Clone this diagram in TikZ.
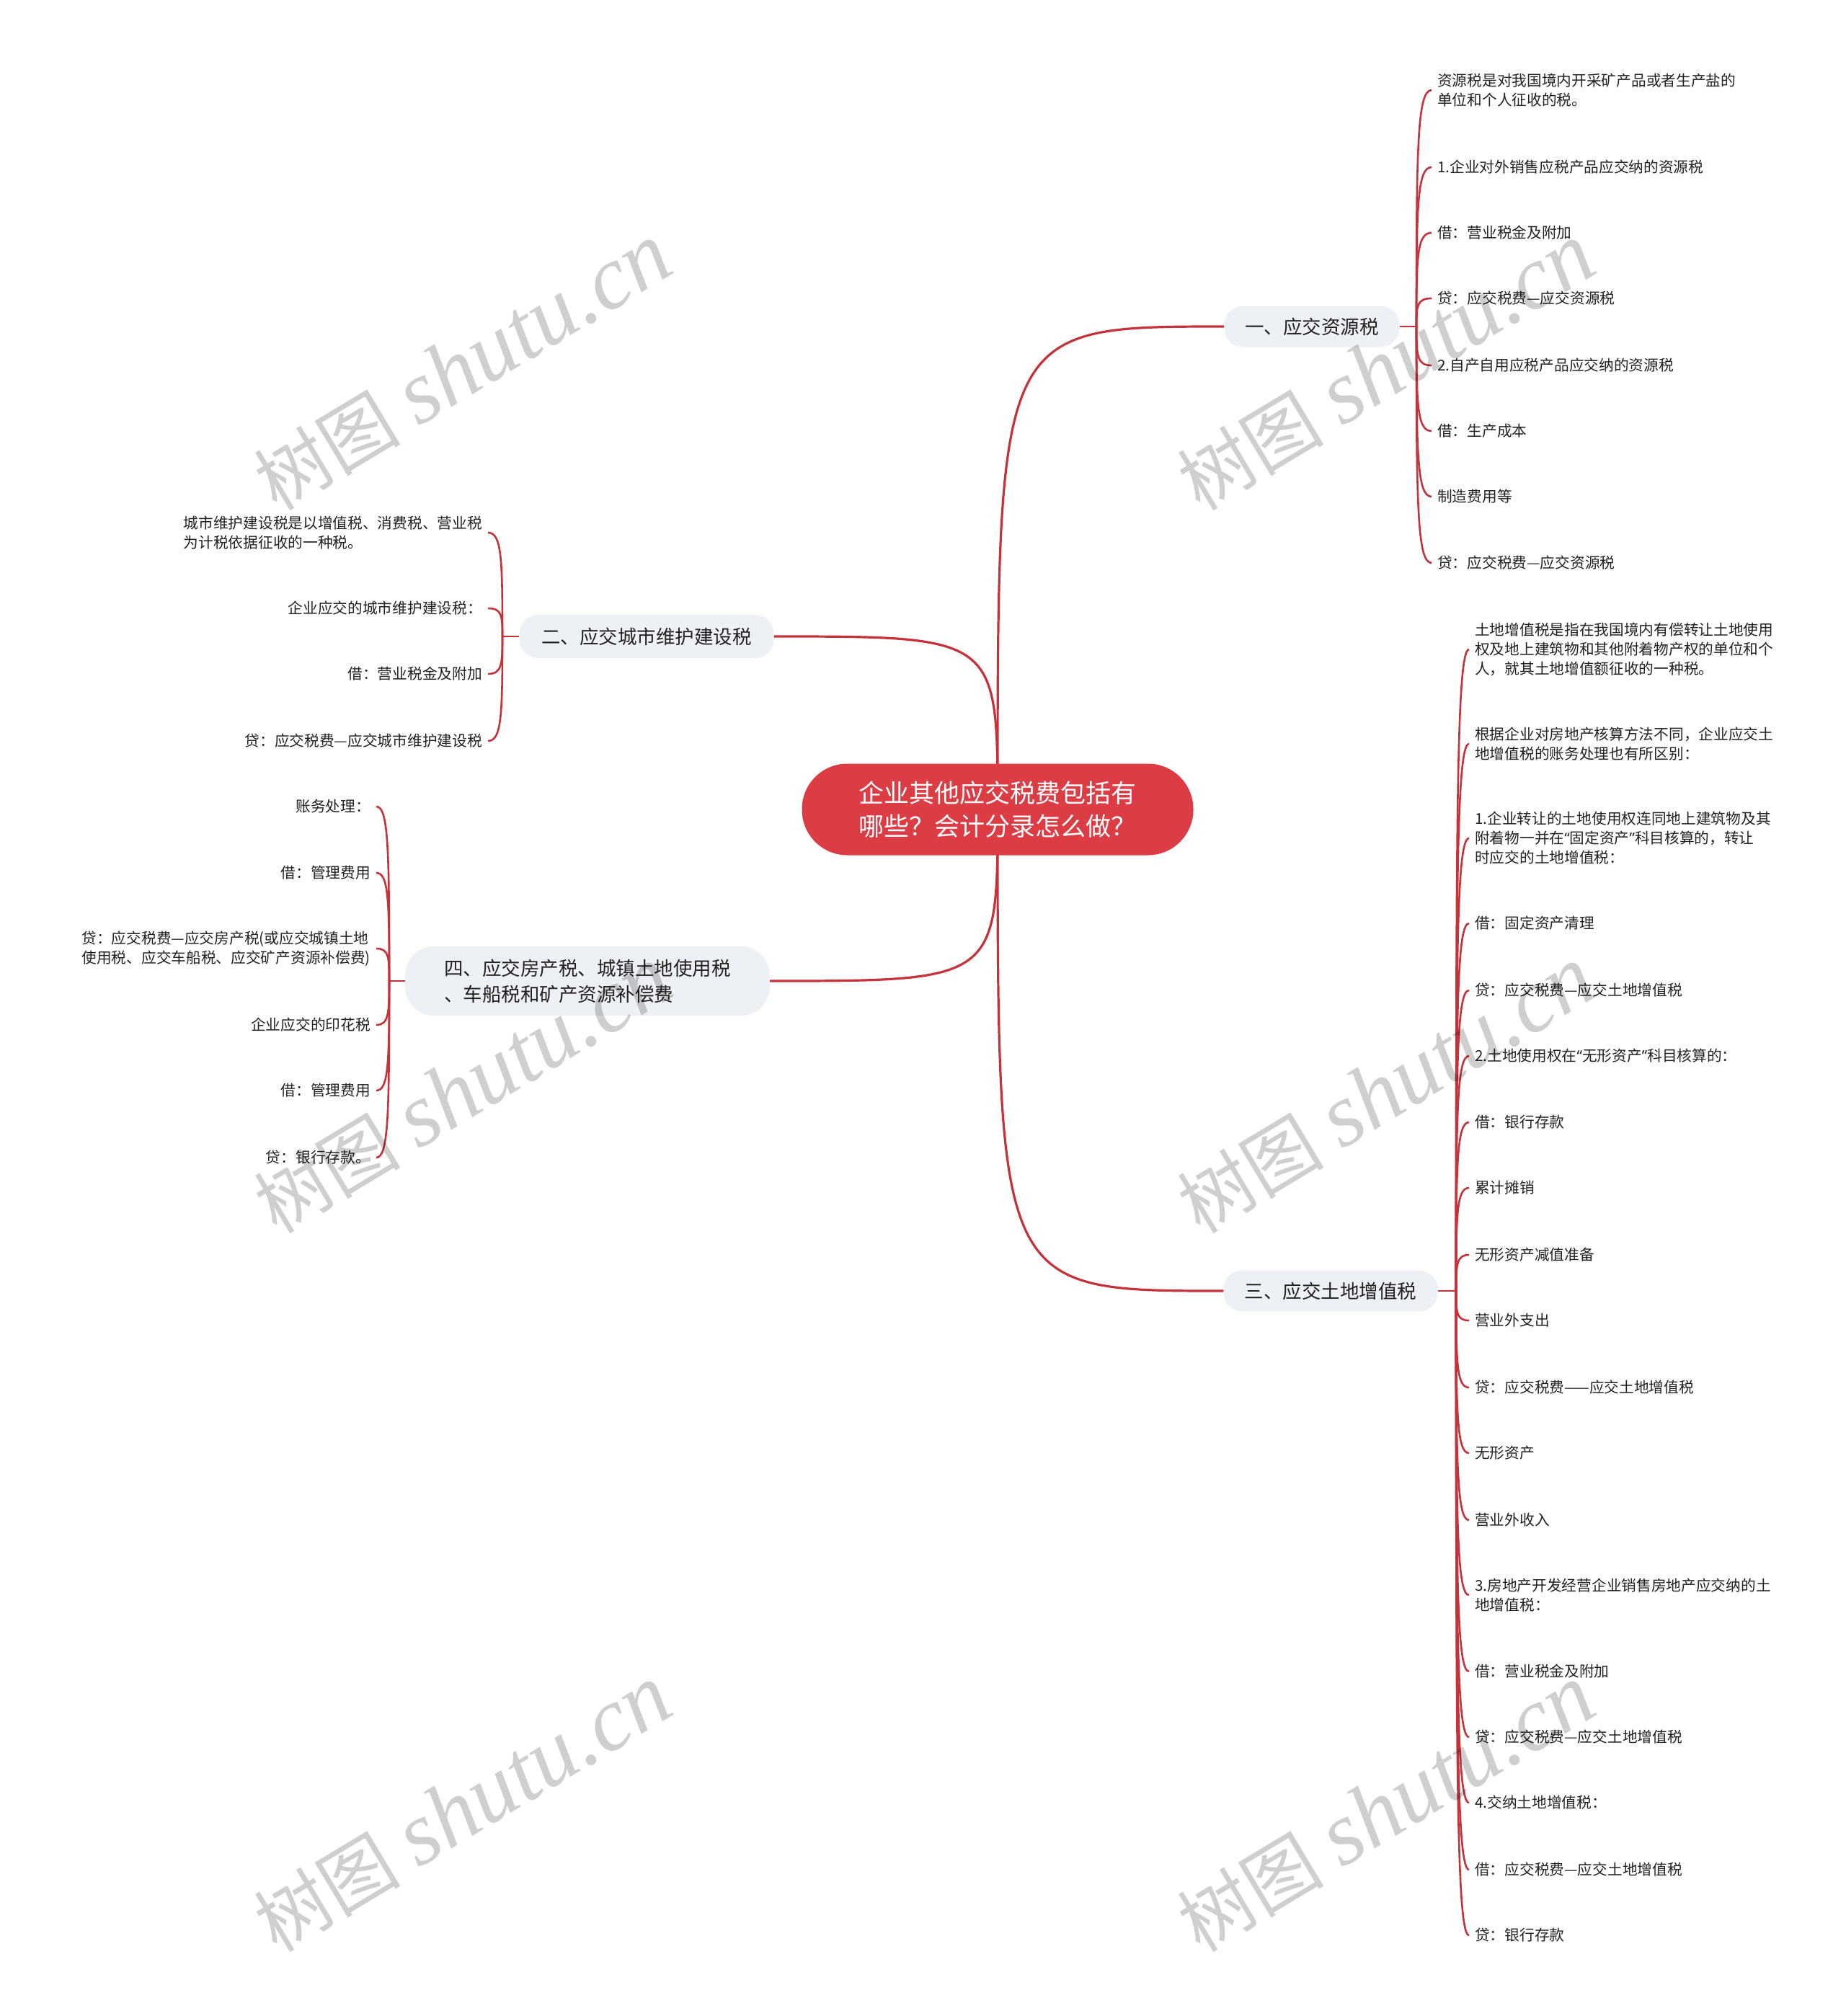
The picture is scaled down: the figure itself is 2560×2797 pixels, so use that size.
\documentclass[tikz,border=0pt]{standalone}
\usepackage{fontspec}
\setmainfont{Noto Sans CJK SC}
\newfontfamily\wmlat{Liberation Serif}
\newfontfamily\latq{Noto Sans}
\usetikzlibrary{calc}
\definecolor{linec}{HTML}{C5323A}
\definecolor{rootc}{HTML}{DC3D45}
\definecolor{branchc}{HTML}{EDF0F4}
\definecolor{textc}{HTML}{222222}
\pgfdeclarelayer{bg}\pgfdeclarelayer{fg}\pgfsetlayers{bg,main,fg}
\newcommand\leaffont{\fontsize{20.7}{27}\selectfont}
\newcommand\brfont{\fontsize{26.5}{36}\selectfont}
\newcommand\rtfont{\fontsize{35}{46}\selectfont}
\newcommand\myoq{{\latq “}}
\newcommand\mycq{{\latq ”}}
\begin{document}
\begin{tikzpicture}[x=1pt,y=-1pt,
  leaf/.style={inner sep=0pt, font=\leaffont, text=textc, align=left},
  rleaf/.style={leaf, anchor=west},
  lleaf/.style={leaf, anchor=east},
  branch/.style={fill=branchc, rounded corners=26pt, font=\brfont, text=textc, inner sep=0pt, align=left},
  mainline/.style={draw=linec, line width=3.2pt},
  leafline/.style={draw=linec, line width=2.6pt},
  wm/.style={text=black, text opacity=0.19, inner sep=0pt, rotate=31}]

\useasboundingbox (0,0) rectangle (2560,2797);

% root
\node[fill=rootc, rounded corners=63pt, minimum width=543pt, minimum height=127pt,
      font=\rtfont, text=white, align=left, inner sep=0pt] (root) at (1384,1123)
      {企业其他应交税费包括有\\哪些？会计分录怎么做？};

% branches
\node[branch, minimum width=243pt, minimum height=57pt] (b1) at (1820,453) {一、应交资源税};
\node[branch, minimum width=353pt, minimum height=60pt] (b2) at (897,883) {二、应交城市维护建设税};
\node[branch, minimum width=297pt, minimum height=57pt] (b3) at (1846,1791) {三、应交土地增值税};
\node[branch, minimum width=506pt, minimum height=96pt, rounded corners=40pt] (b4) at (815,1361)
      {四、应交房产税、城镇土地使用税\\、车船税和矿产资源补偿费};

% junctions
\coordinate (j1) at (1965,453);
\coordinate (j3) at (2020,1791);
\coordinate (j2) at (697,883);
\coordinate (j4) at (540,1361);

% branch 1 leaves
\node[rleaf] (a1) at (1994,125) {资源税是对我国境内开采矿产品或者生产盐的\\单位和个人征收的税。};
\node[rleaf] (a2) at (1994,232) {1.企业对外销售应税产品应交纳的资源税};
\node[rleaf] (a3) at (1994,323) {借：营业税金及附加};
\node[rleaf] (a4) at (1994,414) {贷：应交税费—应交资源税};
\node[rleaf] (a5) at (1994,507) {2.自产自用应税产品应交纳的资源税};
\node[rleaf] (a6) at (1994,598) {借：生产成本};
\node[rleaf] (a7) at (1994,689) {制造费用等};
\node[rleaf] (a8) at (1994,781) {贷：应交税费—应交资源税};

% branch 3 leaves
\node[rleaf] (c1) at (2046,901) {土地增值税是指在我国境内有偿转让土地使用\\权及地上建筑物和其他附着物产权的单位和个\\人，就其土地增值额征收的一种税。};
\node[rleaf] (c2) at (2046,1032) {根据企业对房地产核算方法不同，企业应交土\\地增值税的账务处理也有所区别：};
\node[rleaf] (c3) at (2046,1163) {1.企业转让的土地使用权连同地上建筑物及其\\附着物一并在\myoq 固定资产\mycq 科目核算的，转让\\时应交的土地增值税：};
\node[rleaf] (c4) at (2046,1281) {借：固定资产清理};
\node[rleaf] (c5) at (2046,1374) {贷：应交税费—应交土地增值税};
\node[rleaf] (c6) at (2046,1465) {2.土地使用权在\myoq 无形资产\mycq 科目核算的：};
\node[rleaf] (c7) at (2046,1557) {借：银行存款};
\node[rleaf] (c8) at (2046,1648) {累计摊销};
\node[rleaf] (c9) at (2046,1741) {无形资产减值准备};
\node[rleaf] (c10) at (2046,1832) {营业外支出};
\node[rleaf] (c11) at (2046,1925) {贷：应交税费——应交土地增值税};
\node[rleaf] (c12) at (2046,2016) {无形资产};
\node[rleaf] (c13) at (2046,2109) {营业外收入};
\node[rleaf] (c14) at (2046,2213) {3.房地产开发经营企业销售房地产应交纳的土\\地增值税：};
\node[rleaf] (c15) at (2046,2319) {借：营业税金及附加};
\node[rleaf] (c16) at (2046,2410) {贷：应交税费—应交土地增值税};
\node[rleaf] (c17) at (2046,2501) {4.交纳土地增值税：};
\node[rleaf] (c18) at (2046,2594) {借：应交税费—应交土地增值税};
\node[rleaf] (c19) at (2046,2685) {贷：银行存款};

% branch 2 leaves
\node[lleaf] (d1) at (669,739) {城市维护建设税是以增值税、消费税、营业税\\为计税依据征收的一种税。};
\node[lleaf] (d2) at (669,844) {企业应交的城市维护建设税：};
\node[lleaf] (d3) at (669,935) {借：营业税金及附加};
\node[lleaf] (d4) at (669,1028) {贷：应交税费—应交城市维护建设税};

% branch 4 leaves
\node[lleaf] (e1) at (514,1119) {账务处理：};
\node[lleaf] (e2) at (514,1211) {借：管理费用};
\node[lleaf] (e3) at (514,1316) {贷：应交税费—应交房产税(或应交城镇土地\\使用税、应交车船税、应交矿产资源补偿费)};
\node[lleaf] (e4) at (514,1422) {企业应交的印花税};
\node[lleaf] (e5) at (514,1513) {借：管理费用};
\node[lleaf] (e6) at (514,1606) {贷：银行存款。};

\begin{pgfonlayer}{bg}
\fill[white] (0,0) rectangle (2560,2797);
\draw[mainline] (root.center) .. controls (root.center |- b1.west) .. (b1.west);
\draw[mainline] (root.center) .. controls (root.center |- b2.east) .. (b2.east);
\draw[mainline] (root.center) .. controls (root.center |- b3.west) .. (b3.west);
\draw[mainline] (root.center) .. controls (root.center |- b4.east) .. (b4.east);

\draw[leafline] (b1.east) -- (j1);
\draw[leafline] (b3.east) -- (j3);
\draw[leafline] (b2.west) -- (j2);
\draw[leafline] (b4.west) -- (j4);

\foreach \lf in {a1,a2,a3,a4,a5,a6,a7,a8}
  \draw[leafline] let \p1=(j1), \p2=(\lf.west) in
    (\p1) .. controls (\x1,{\y1+0.75*(\y2-\y1)}) and (\x1+1pt,\y2) .. (\x2-8pt,\y2);
\foreach \lf in {c1,c2,c3,c4,c5,c6,c7,c8,c9,c10,c11,c12,c13,c14,c15,c16,c17,c18,c19}
  \draw[leafline] let \p1=(j3), \p2=(\lf.west) in
    (\p1) .. controls (\x1,{\y1+0.75*(\y2-\y1)}) and (\x1+1pt,\y2) .. (\x2-8pt,\y2);
\foreach \lf in {d1,d2,d3,d4}
  \draw[leafline] let \p1=(j2), \p2=(\lf.east) in
    (\p1) .. controls (\x1,{\y1+0.75*(\y2-\y1)}) and (\x1-1pt,\y2) .. (\x2+8pt,\y2);
\foreach \lf in {e1,e2,e3,e4,e5,e6}
  \draw[leafline] let \p1=(j4), \p2=(\lf.east) in
    (\p1) .. controls (\x1,{\y1+0.75*(\y2-\y1)}) and (\x1-1pt,\y2) .. (\x2+8pt,\y2);
\end{pgfonlayer}

% watermarks
\begin{pgfonlayer}{fg}
\foreach \i/\wx/\wy in {1/642/510, 2/1923/510, 3/642/1513, 4/1923/1513, 5/642/2510, 6/1923/2510}
  \node[wm] (wm\i) at (\wx,\wy) {{\fontsize{102}{112}\selectfont 树图}\hspace{25pt}{\wmlat\itshape\fontsize{125}{135}\selectfont shutu.cn}};
\end{pgfonlayer}
\end{tikzpicture}
\end{document}
